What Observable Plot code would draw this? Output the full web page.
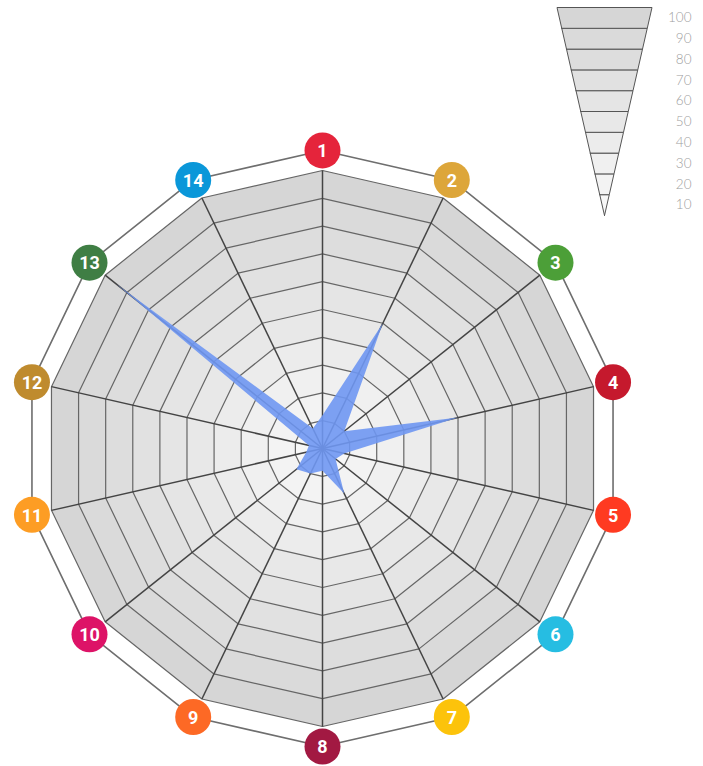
<!DOCTYPE html>
<html>
<head>
<meta charset="utf-8">
<script src="https://cdn.jsdelivr.net/npm/d3@7"></script>
<script src="https://cdn.jsdelivr.net/npm/@observablehq/plot@0.6"></script>
<style>
  body { margin: 0; background: #fff; }
  #wrap { position: relative; width: 703px; height: 766px; }
  #legend { position: absolute; left: 543px; top: 0px; }
</style>
</head>
<body>
<div id="wrap"><div id="main"></div><div id="legend"></div></div>
<script>
// ---- data ----
const goals = [1, 2, 3, 4, 5, 6, 7, 8, 9, 10, 11, 12, 13, 14];
const scores = [12, 50, 10, 50, 8, 6, 18, 8, 10, 12, 6, 5, 95, 8];
const goalColors = ["#E5243B", "#DDA63A", "#4C9F38", "#C5192D", "#FF3A21", "#26BDE2", "#FCC30B",
                    "#A21942", "#FD6925", "#DD1367", "#FD9D24", "#BF8B2E", "#3F7E44", "#0A97D9"];
const levels = [10, 20, 30, 40, 50, 60, 70, 80, 90, 100];
const legendLabels = ["10", "20", "30", "40", "50", "60", "70", "80", "90", "100"];

// ---- styles ----
const shade = d3.scaleLinear().domain([10, 100]).range(["#f7f7f7", "#d6d6d6"]);
const labelRadius = 107.2;
const n = goals.length;
const ang = i => i * 2 * Math.PI / n;
const pt = (v, i) => ({x: v * Math.sin(ang(i)), y: v * Math.cos(ang(i))});
const closed = arr => arr.concat([arr[0]]);

const ringMarks = levels.slice().reverse().map(L =>
  Plot.line(closed(goals.map((g, i) => pt(L, i))), {
    x: "x", y: "y", fill: shade(L), stroke: "#666", strokeWidth: 1.2
  })
);

const spokes = goals.map((g, i) => ({g, ...pt(100, i)}));
const scorePts = closed(scores.map((s, i) => pt(s, i)));
const labels = goals.map((g, i) => ({g, c: goalColors[i], ...pt(labelRadius, i)}));

const k = 2.78;
const main = Plot.plot({
  width: 703, height: 766, margin: 0,
  x: {domain: [-322 / k, 381 / k], range: [0, 703], axis: null},
  y: {domain: [-318 / k, 448 / k], range: [766, 0], axis: null},
  color: {type: "identity"},
  style: {background: "transparent"},
  marks: [
    Plot.line(closed(labels), {x: "x", y: "y", stroke: "#6e6e6e", strokeWidth: 1.6}),
    ...ringMarks,
    Plot.link(spokes, {x1: 0, y1: 0, x2: "x", y2: "y", stroke: "#444", strokeWidth: 1.5}),
    Plot.line(scorePts, {x: "x", y: "y", fill: "#6f97f2", fillOpacity: 0.9, stroke: "none"}),
    Plot.dot(labels, {x: "x", y: "y", r: 18, fill: "c", stroke: "none"}),
    Plot.text(labels, {x: "x", y: "y", text: d => String(d.g), fill: "white", fontSize: 18,
      fontWeight: "bold", fontFamily: "Roboto, sans-serif", dy: 1})
  ]
});
document.getElementById("main").appendChild(main);

// ---- legend (inverted triangle) ----
const halfW = v => v * 0.475;
const bands = levels.map((L, j) => {
  const lo = L - 10;
  return {L, pts: [
    {x: -halfW(lo), y: lo}, {x: halfW(lo), y: lo}, {x: halfW(L), y: L}, {x: -halfW(L), y: L}, {x: -halfW(lo), y: lo}
  ]};
});
const legend = Plot.plot({
  width: 160, height: 225, margin: 0,
  x: {domain: [-61, 99], range: [0, 160], axis: null},
  y: {domain: [0, 100], range: [215, 7], axis: null},
  style: {background: "transparent"},
  marks: [
    ...bands.map(b => Plot.line(b.pts, {x: "x", y: "y", fill: shade(b.L), stroke: "#555", strokeWidth: 1})),
    Plot.text(levels, {x: 87, y: d => d - 5, text: (d, i) => legendLabels[i], textAnchor: "end",
      fill: "#a0a0a0", fontSize: 13.5, fontWeight: 300, fontFamily: "Lato, sans-serif"})
  ]
});
document.getElementById("legend").appendChild(legend);
</script>
</body>
</html>
